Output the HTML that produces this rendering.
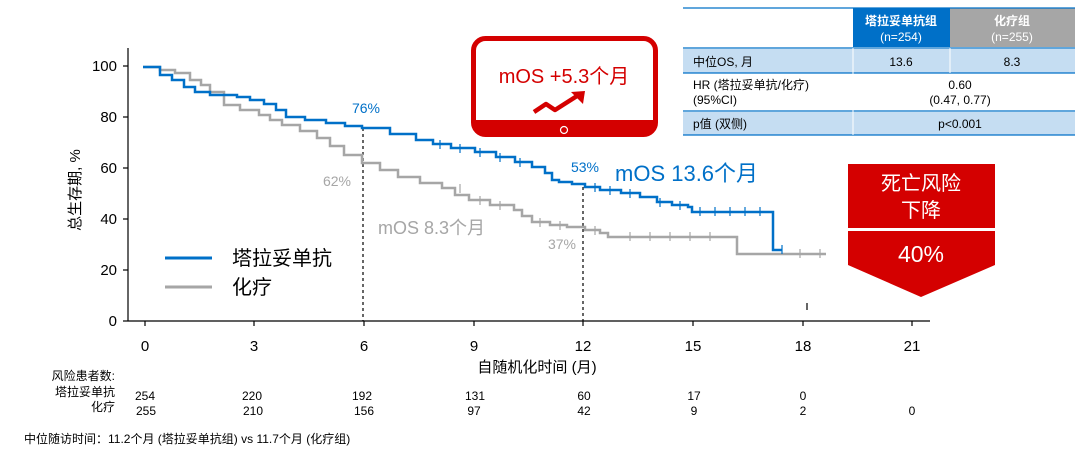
<!DOCTYPE html>
<html><head><meta charset="utf-8"><style>
body{margin:0;width:1080px;height:458px;background:#fff;overflow:hidden;font-family:"Liberation Sans","Noto Sans CJK SC",sans-serif}
svg text{font-family:"Liberation Sans","Noto Sans CJK SC",sans-serif}
</style></head><body>
<svg width="1080" height="458" viewBox="0 0 1080 458">
<line x1="128" y1="48" x2="128" y2="321" stroke="#000" stroke-width="1.2"/>
<line x1="128" y1="321" x2="930" y2="321" stroke="#000" stroke-width="1.2"/>
<g stroke="#000" stroke-width="1.2">
<line x1="123" y1="66" x2="128" y2="66"/><line x1="123" y1="117" x2="128" y2="117"/><line x1="123" y1="168" x2="128" y2="168"/><line x1="123" y1="219" x2="128" y2="219"/><line x1="123" y1="270" x2="128" y2="270"/><line x1="123" y1="321" x2="128" y2="321"/>
<line x1="145" y1="321" x2="145" y2="326"/><line x1="254" y1="321" x2="254" y2="326"/><line x1="364" y1="321" x2="364" y2="326"/><line x1="474" y1="321" x2="474" y2="326"/><line x1="583" y1="321" x2="583" y2="326"/><line x1="693" y1="321" x2="693" y2="326"/><line x1="803" y1="321" x2="803" y2="326"/><line x1="912" y1="321" x2="912" y2="326"/>
<line x1="807" y1="303" x2="807" y2="310"/>
</g>
<g font-size="15" text-anchor="end" fill="#000">
<text x="117" y="71">100</text><text x="117" y="122">80</text><text x="117" y="173">60</text><text x="117" y="224">40</text><text x="117" y="275">20</text><text x="117" y="326">0</text>
</g>
<g font-size="15" text-anchor="middle" fill="#000">
<text x="145" y="351">0</text><text x="254" y="351">3</text><text x="364" y="351">6</text><text x="474" y="351">9</text><text x="583" y="351">12</text><text x="693" y="351">15</text><text x="803" y="351">18</text><text x="912" y="351">21</text>
<text x="537" y="372">自随机化时间 (月)</text>
</g>
<text transform="translate(80,190) rotate(-90)" font-size="15" text-anchor="middle">总生存期, %</text>
<line x1="363" y1="128" x2="363" y2="321" stroke="#000" stroke-dasharray="3,3" stroke-width="1.2"/>
<line x1="583" y1="187" x2="583" y2="321" stroke="#000" stroke-dasharray="3,3" stroke-width="1.2"/>
<path fill="none" stroke="#a6a6a6" stroke-width="2.5" d="M143,67 H160 V70 H175 V73 H190 V80 H201 V85 H210 V92 H224 V105 H240 V110 H259 V115 H270 V120 H282 V125 H300 V131 H317 V138 H330 V146 H344 V155 H362 V163 H380 V170 H398 V177 H420 V183 H442 V188 H455 V195 H469 V200 H490 V205 H514 V210 H522 V216 H532 V222 H550 V225 H567 V227 H585 V230 H600 V233 H608 V237 H737 V254 H826"/>
<path fill="none" stroke="#0070c8" stroke-width="2.5" d="M143,67 H160 V75 H172 V80 H184 V87 H195 V92 H210 V95 H237 V97 H250 V100 H264 V104 H276 V110 H286 V117 H305 V120 H326 V123 H345 V126 H362 V128 H390 V134 H416 V140 H433 V144 H451 V148 H475 V152 H496 V157 H515 V162 H532 V167 H545 V173 H552 V180 H559 V182 H572 V184 H585 V187 H600 V190 H621 V193 H640 V197 H657 V202 H672 V205 H688 V207 H692 V212 H773 V250 H782"/>
<g stroke="#0070c8" stroke-width="1.2"><line x1="700" y1="207" x2="700" y2="216"/><line x1="715" y1="207" x2="715" y2="216"/><line x1="730" y1="207" x2="730" y2="216"/><line x1="745" y1="207" x2="745" y2="216"/><line x1="760" y1="207" x2="760" y2="216"/><line x1="782" y1="245" x2="782" y2="254"/>
<line x1="440" y1="140" x2="440" y2="149"/><line x1="460" y1="144" x2="460" y2="153"/><line x1="480" y1="148" x2="480" y2="157"/><line x1="500" y1="153" x2="500" y2="162"/><line x1="520" y1="158" x2="520" y2="167"/><line x1="595" y1="183" x2="595" y2="192"/><line x1="610" y1="186" x2="610" y2="195"/><line x1="630" y1="189" x2="630" y2="198"/><line x1="660" y1="198" x2="660" y2="207"/><line x1="680" y1="201" x2="680" y2="210"/></g>
<g stroke="#a6a6a6" stroke-width="1.2"><line x1="630" y1="232" x2="630" y2="241"/><line x1="650" y1="232" x2="650" y2="241"/><line x1="670" y1="232" x2="670" y2="241"/><line x1="690" y1="232" x2="690" y2="241"/><line x1="710" y1="232" x2="710" y2="241"/><line x1="800" y1="249" x2="800" y2="258"/><line x1="820" y1="249" x2="820" y2="258"/>
<line x1="460" y1="184" x2="460" y2="193"/><line x1="480" y1="196" x2="480" y2="205"/><line x1="500" y1="201" x2="500" y2="210"/><line x1="540" y1="218" x2="540" y2="227"/><line x1="560" y1="221" x2="560" y2="230"/><line x1="595" y1="226" x2="595" y2="235"/></g>
<text x="366" y="113" font-size="14" fill="#0070c8" text-anchor="middle">76%</text>
<text x="337" y="186" font-size="14" fill="#a6a6a6" text-anchor="middle">62%</text>
<text x="585" y="172" font-size="14" fill="#0070c8" text-anchor="middle">53%</text>
<text x="562" y="249" font-size="14" fill="#a6a6a6" text-anchor="middle">37%</text>
<text x="615" y="181" font-size="22" fill="#0070c8">mOS 13.6个月</text>
<text x="378" y="234" font-size="18" fill="#a6a6a6">mOS 8.3个月</text>
<line x1="165" y1="258" x2="212" y2="258" stroke="#0070c8" stroke-width="3"/>
<text x="232" y="265" font-size="20">塔拉妥单抗</text>
<line x1="165" y1="287" x2="212" y2="287" stroke="#a6a6a6" stroke-width="3"/>
<text x="232" y="294" font-size="20">化疗</text>
<g font-size="12" fill="#000">
<text x="115" y="380" text-anchor="end">风险患者数:</text>
<text x="115" y="396" text-anchor="end">塔拉妥单抗</text>
<text x="115" y="411" text-anchor="end">化疗</text>
<g text-anchor="middle">
<text x="145" y="400">254</text><text x="252" y="400">220</text><text x="362" y="400">192</text><text x="475" y="400">131</text><text x="584" y="400">60</text><text x="694" y="400">17</text><text x="803" y="400">0</text>
<text x="146" y="415">255</text><text x="253" y="415">210</text><text x="364" y="415">156</text><text x="474" y="415">97</text><text x="584" y="415">42</text><text x="694" y="415">9</text><text x="803" y="415">2</text><text x="912" y="415">0</text>
</g>
<text x="24" y="443">中位随访时间：11.2个月 (塔拉妥单抗组) vs 11.7个月 (化疗组)</text>
</g>
<rect x="473.5" y="38.5" width="182" height="96" rx="12" fill="#fff" stroke="#d40000" stroke-width="5"/>
<path d="M473,120 H656 V124 Q656,136 644,136 H485 Q473,136 473,124 Z" fill="#d40000"/>
<circle cx="564" cy="130" r="3.5" fill="none" stroke="#fff" stroke-width="1.2"/>
<text x="564" y="83" font-size="20" fill="#d40000" text-anchor="middle">mOS +5.3个月</text>
<polyline points="534,112 546,104 555,110 577,96" fill="none" stroke="#d40000" stroke-width="4.5" stroke-linejoin="round"/>
<polygon points="571,92 585,91 583,104" fill="#d40000"/>
<rect x="853" y="8" width="97" height="39" fill="#0070c8"/>
<rect x="950" y="8" width="125" height="39" fill="#a6a6a6"/>
<rect x="683" y="49" width="392" height="24" fill="#c5ddf2"/>
<rect x="683" y="112" width="392" height="23" fill="#c5ddf2"/>
<g stroke="#0070c8" stroke-width="1.2"><line x1="683" y1="8" x2="1075" y2="8"/><line x1="683" y1="48" x2="1075" y2="48"/><line x1="683" y1="73" x2="1075" y2="73"/><line x1="683" y1="111" x2="1075" y2="111"/><line x1="683" y1="135" x2="1075" y2="135"/></g>
<line x1="853" y1="48" x2="853" y2="135" stroke="#fff" stroke-width="1"/>
<line x1="950" y1="48" x2="950" y2="73" stroke="#fff" stroke-width="1"/>
<g font-size="12" fill="#fff" text-anchor="middle" font-weight="bold"><text x="901" y="25">塔拉妥单抗组</text><text x="901" y="41" font-weight="normal">(n=254)</text><text x="1012" y="25">化疗组</text><text x="1012" y="41" font-weight="normal">(n=255)</text></g>
<g font-size="12" fill="#000">
<text x="693" y="66">中位OS, 月</text><text x="901" y="66" text-anchor="middle">13.6</text><text x="1012" y="66" text-anchor="middle">8.3</text>
<text x="693" y="89">HR (塔拉妥单抗/化疗)</text><text x="693" y="104">(95%CI)</text>
<text x="960" y="89" text-anchor="middle">0.60</text><text x="960" y="104" text-anchor="middle">(0.47, 0.77)</text>
<text x="693" y="128">p值 (双侧)</text><text x="960" y="128" text-anchor="middle">p&lt;0.001</text>
</g>
<rect x="848" y="164" width="147" height="64" fill="#d40000"/>
<polygon points="848,231 995,231 995,265 921,297 848,265" fill="#d40000"/>
<g fill="#fff" font-size="20" text-anchor="middle"><text x="921" y="190">死亡风险</text><text x="921" y="217">下降</text><text x="921" y="262" font-size="23">40%</text></g>
</svg>
</body></html>
